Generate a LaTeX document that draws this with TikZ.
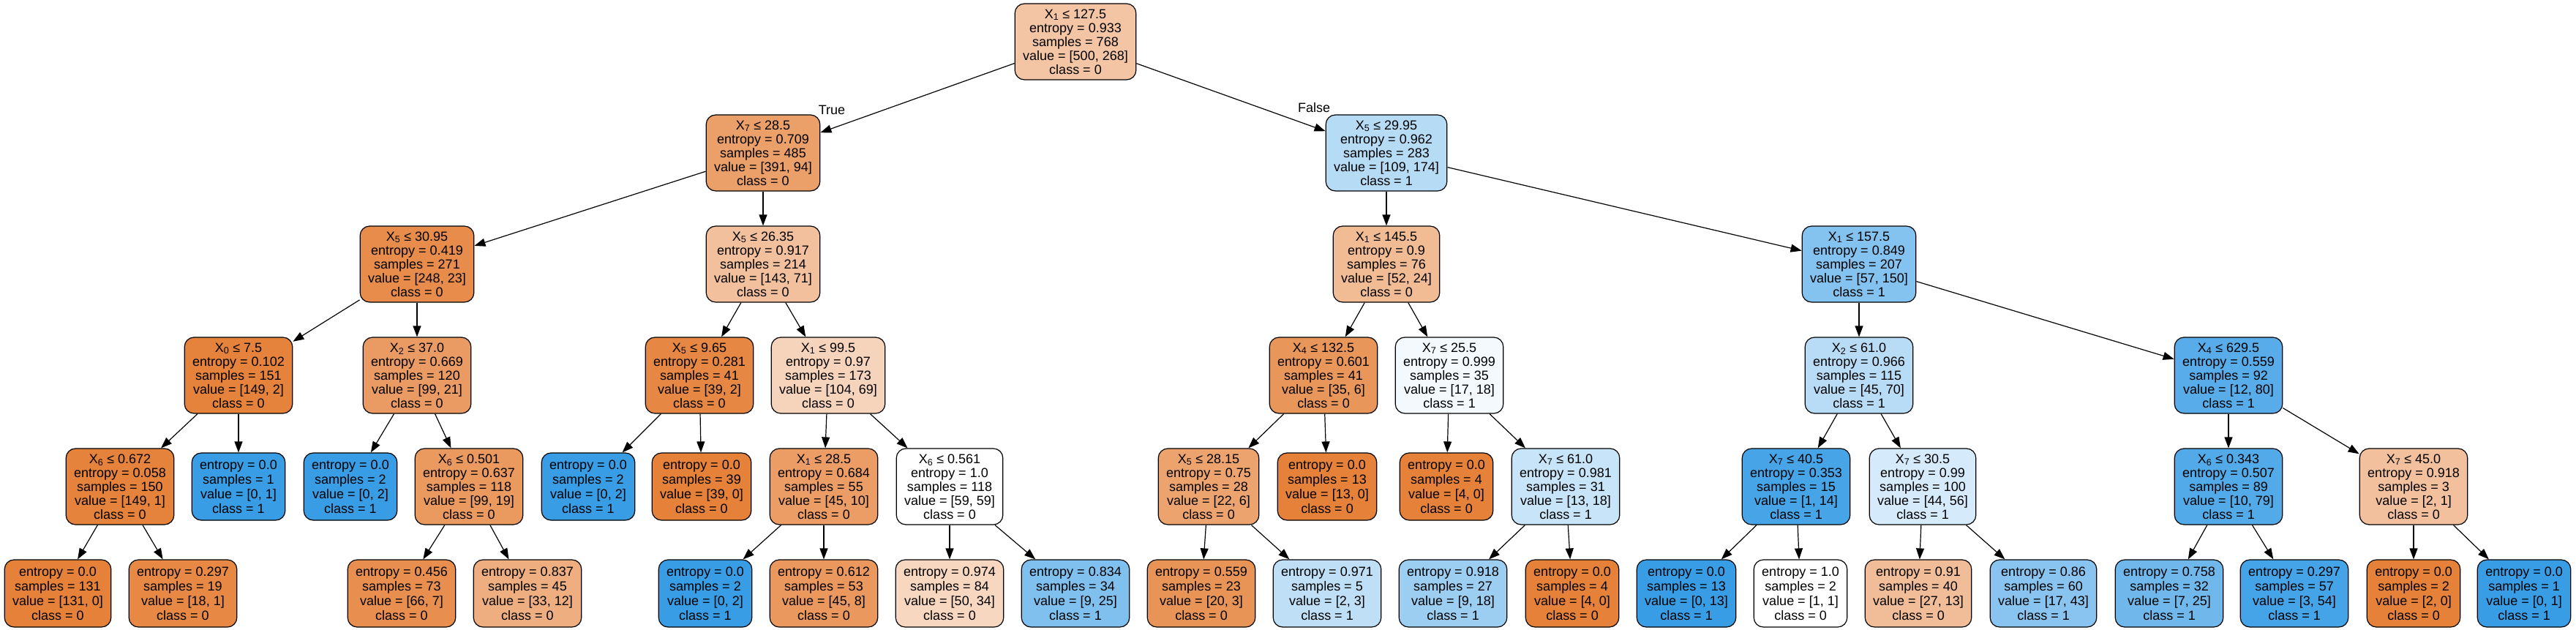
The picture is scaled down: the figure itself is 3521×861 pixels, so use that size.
\documentclass[tikz,border=0pt]{standalone}
\usepackage{fontspec}
\setmainfont{Liberation Sans}
\usetikzlibrary{arrows.meta}
\definecolor{cz}{RGB}{229,129,57}
\definecolor{co}{RGB}{57,157,229}
\begin{document}
\begin{tikzpicture}[x=1pt,y=-1pt,
  base/.style={draw=black, line width=1.2pt, rounded corners=13pt, align=center, inner xsep=11pt, inner ysep=0pt},
  tnode/.style={base, minimum height=104pt, font=\fontsize{18}{19}\selectfont},
  tleaf/.style={base, minimum height=92pt, font=\fontsize{18}{20}\selectfont},
  conn/.style={draw=black, line width=1.2pt, -{Triangle[length=15pt,width=11pt]}},
  lbl/.style={font=\fontsize{18}{20}\selectfont, inner sep=0pt}]
\useasboundingbox (0,0) rectangle (3521,861);
% level 0
\node[tnode, fill=cz!46!white] (n0) at (1470,57) {X\textsubscript{1} ≤ 127.5\\entropy = 0.933\\samples = 768\\value = [500, 268]\\class = 0};
% level 1
\node[tnode, fill=cz!76!white] (a) at (1043,209) {X\textsubscript{7} ≤ 28.5\\entropy = 0.709\\samples = 485\\value = [391, 94]\\class = 0};
\node[tnode, fill=co!37!white] (b) at (1895,209) {X\textsubscript{5} ≤ 29.95\\entropy = 0.962\\samples = 283\\value = [109, 174]\\class = 1};
% level 2
\node[tnode, fill=cz!91!white] (a1) at (570,361) {X\textsubscript{5} ≤ 30.95\\entropy = 0.419\\samples = 271\\value = [248, 23]\\class = 0};
\node[tnode, fill=cz!50!white] (a2) at (1043,361) {X\textsubscript{5} ≤ 26.35\\entropy = 0.917\\samples = 214\\value = [143, 71]\\class = 0};
\node[tnode, fill=cz!54!white] (b1) at (1895,361) {X\textsubscript{1} ≤ 145.5\\entropy = 0.9\\samples = 76\\value = [52, 24]\\class = 0};
\node[tnode, fill=co!62!white] (b2) at (2541,361) {X\textsubscript{1} ≤ 157.5\\entropy = 0.849\\samples = 207\\value = [57, 150]\\class = 1};
% level 3
\node[tnode, fill=cz!99!white] (a11) at (326,513) {X\textsubscript{0} ≤ 7.5\\entropy = 0.102\\samples = 151\\value = [149, 2]\\class = 0};
\node[tnode, fill=cz!79!white] (a12) at (570,513) {X\textsubscript{2} ≤ 37.0\\entropy = 0.669\\samples = 120\\value = [99, 21]\\class = 0};
\node[tnode, fill=cz!95!white] (a21) at (956,513) {X\textsubscript{5} ≤ 9.65\\entropy = 0.281\\samples = 41\\value = [39, 2]\\class = 0};
\node[tnode, fill=cz!34!white] (a22) at (1132,513) {X\textsubscript{1} ≤ 99.5\\entropy = 0.97\\samples = 173\\value = [104, 69]\\class = 0};
\node[tnode, fill=cz!83!white] (b11) at (1809,513) {X\textsubscript{4} ≤ 132.5\\entropy = 0.601\\samples = 41\\value = [35, 6]\\class = 0};
\node[tnode, fill=co!6!white] (b12) at (1981,513) {X\textsubscript{7} ≤ 25.5\\entropy = 0.999\\samples = 35\\value = [17, 18]\\class = 1};
\node[tnode, fill=co!36!white] (b21) at (2541,513) {X\textsubscript{2} ≤ 61.0\\entropy = 0.966\\samples = 115\\value = [45, 70]\\class = 1};
\node[tnode, fill=co!85!white] (b22) at (3046,513) {X\textsubscript{4} ≤ 629.5\\entropy = 0.559\\samples = 92\\value = [12, 80]\\class = 1};
% level 4
\node[tnode, fill=cz!99!white] (c1) at (164,665) {X\textsubscript{6} ≤ 0.672\\entropy = 0.058\\samples = 150\\value = [149, 1]\\class = 0};
\node[tleaf, fill=co] (c2) at (326,665) {entropy = 0.0\\samples = 1\\value = [0, 1]\\class = 1};
\node[tleaf, fill=co] (c3) at (479,665) {entropy = 0.0\\samples = 2\\value = [0, 2]\\class = 1};
\node[tnode, fill=cz!81!white] (c4) at (641,665) {X\textsubscript{6} ≤ 0.501\\entropy = 0.637\\samples = 118\\value = [99, 19]\\class = 0};
\node[tleaf, fill=co] (c5) at (804,665) {entropy = 0.0\\samples = 2\\value = [0, 2]\\class = 1};
\node[tleaf, fill=cz] (c6) at (959,665) {entropy = 0.0\\samples = 39\\value = [39, 0]\\class = 0};
\node[tnode, fill=cz!78!white] (c7) at (1126,665) {X\textsubscript{1} ≤ 28.5\\entropy = 0.684\\samples = 55\\value = [45, 10]\\class = 0};
\node[tnode, fill=white] (c8) at (1298,665) {X\textsubscript{6} ≤ 0.561\\entropy = 1.0\\samples = 118\\value = [59, 59]\\class = 0};
\node[tnode, fill=cz!73!white] (c9) at (1652,665) {X\textsubscript{5} ≤ 28.15\\entropy = 0.75\\samples = 28\\value = [22, 6]\\class = 0};
\node[tleaf, fill=cz] (c10) at (1814,665) {entropy = 0.0\\samples = 13\\value = [13, 0]\\class = 0};
\node[tleaf, fill=cz] (c11) at (1977,665) {entropy = 0.0\\samples = 4\\value = [4, 0]\\class = 0};
\node[tnode, fill=co!28!white] (c12) at (2140,665) {X\textsubscript{7} ≤ 61.0\\entropy = 0.981\\samples = 31\\value = [13, 18]\\class = 1};
\node[tnode, fill=co!93!white] (c13) at (2455,665) {X\textsubscript{7} ≤ 40.5\\entropy = 0.353\\samples = 15\\value = [1, 14]\\class = 1};
\node[tnode, fill=co!21!white] (c14) at (2628,665) {X\textsubscript{7} ≤ 30.5\\entropy = 0.99\\samples = 100\\value = [44, 56]\\class = 1};
\node[tnode, fill=co!87!white] (c15) at (3046,665) {X\textsubscript{6} ≤ 0.343\\entropy = 0.507\\samples = 89\\value = [10, 79]\\class = 1};
\node[tnode, fill=cz!50!white] (c16) at (3299,665) {X\textsubscript{7} ≤ 45.0\\entropy = 0.918\\samples = 3\\value = [2, 1]\\class = 0};
% level 5
\node[tleaf, fill=cz] (d1) at (79,811) {entropy = 0.0\\samples = 131\\value = [131, 0]\\class = 0};
\node[tleaf, fill=cz!94!white] (d2) at (250,811) {entropy = 0.297\\samples = 19\\value = [18, 1]\\class = 0};
\node[tleaf, fill=cz!89!white] (d3) at (549,811) {entropy = 0.456\\samples = 73\\value = [66, 7]\\class = 0};
\node[tleaf, fill=cz!64!white] (d4) at (721,811) {entropy = 0.837\\samples = 45\\value = [33, 12]\\class = 0};
\node[tleaf, fill=co] (d5) at (964,811) {entropy = 0.0\\samples = 2\\value = [0, 2]\\class = 1};
\node[tleaf, fill=cz!82!white] (d6) at (1126,811) {entropy = 0.612\\samples = 53\\value = [45, 8]\\class = 0};
\node[tleaf, fill=cz!32!white] (d7) at (1298,811) {entropy = 0.974\\samples = 84\\value = [50, 34]\\class = 0};
\node[tleaf, fill=co!64!white] (d8) at (1470,811) {entropy = 0.834\\samples = 34\\value = [9, 25]\\class = 1};
\node[tleaf, fill=cz!85!white] (d9) at (1642,811) {entropy = 0.559\\samples = 23\\value = [20, 3]\\class = 0};
\node[tleaf, fill=co!33!white] (d10) at (1814,811) {entropy = 0.971\\samples = 5\\value = [2, 3]\\class = 1};
\node[tleaf, fill=co!50!white] (d11) at (1986,811) {entropy = 0.918\\samples = 27\\value = [9, 18]\\class = 1};
\node[tleaf, fill=cz] (d12) at (2149,811) {entropy = 0.0\\samples = 4\\value = [4, 0]\\class = 0};
\node[tleaf, fill=co] (d13) at (2305,811) {entropy = 0.0\\samples = 13\\value = [0, 13]\\class = 1};
\node[tleaf, fill=white] (d14) at (2461,811) {entropy = 1.0\\samples = 2\\value = [1, 1]\\class = 0};
\node[tleaf, fill=cz!52!white] (d15) at (2622,811) {entropy = 0.91\\samples = 40\\value = [27, 13]\\class = 0};
\node[tleaf, fill=co!60!white] (d16) at (2793,811) {entropy = 0.86\\samples = 60\\value = [17, 43]\\class = 1};
\node[tleaf, fill=co!72!white] (d17) at (2965,811) {entropy = 0.758\\samples = 32\\value = [7, 25]\\class = 1};
\node[tleaf, fill=co!94!white] (d18) at (3136,811) {entropy = 0.297\\samples = 57\\value = [3, 54]\\class = 1};
\node[tleaf, fill=cz] (d19) at (3299,811) {entropy = 0.0\\samples = 2\\value = [2, 0]\\class = 0};
\node[tleaf, fill=co] (d20) at (3450,811) {entropy = 0.0\\samples = 1\\value = [0, 1]\\class = 1};
% labels
\node[lbl] (tl) at (1137,150) {True};
\node[lbl] (fl) at (1796,147) {False};
% edges
\draw[conn] (n0) -- (a);
\draw[conn] (n0) -- (b);
\draw[conn] (a) -- (a1);
\draw[conn] (a) -- (a2);
\draw[conn] (b) -- (b1);
\draw[conn] (b) -- (b2);
\draw[conn] (a1) -- (a11);
\draw[conn] (a1) -- (a12);
\draw[conn] (a2) -- (a21);
\draw[conn] (a2) -- (a22);
\draw[conn] (b1) -- (b11);
\draw[conn] (b1) -- (b12);
\draw[conn] (b2) -- (b21);
\draw[conn] (b2) -- (b22);
\draw[conn] (a11) -- (c1);
\draw[conn] (a11) -- (c2);
\draw[conn] (a12) -- (c3);
\draw[conn] (a12) -- (c4);
\draw[conn] (a21) -- (c5);
\draw[conn] (a21) -- (c6);
\draw[conn] (a22) -- (c7);
\draw[conn] (a22) -- (c8);
\draw[conn] (b11) -- (c9);
\draw[conn] (b11) -- (c10);
\draw[conn] (b12) -- (c11);
\draw[conn] (b12) -- (c12);
\draw[conn] (b21) -- (c13);
\draw[conn] (b21) -- (c14);
\draw[conn] (b22) -- (c15);
\draw[conn] (b22) -- (c16);
\draw[conn] (c1) -- (d1);
\draw[conn] (c1) -- (d2);
\draw[conn] (c4) -- (d3);
\draw[conn] (c4) -- (d4);
\draw[conn] (c7) -- (d5);
\draw[conn] (c7) -- (d6);
\draw[conn] (c8) -- (d7);
\draw[conn] (c8) -- (d8);
\draw[conn] (c9) -- (d9);
\draw[conn] (c9) -- (d10);
\draw[conn] (c12) -- (d11);
\draw[conn] (c12) -- (d12);
\draw[conn] (c13) -- (d13);
\draw[conn] (c13) -- (d14);
\draw[conn] (c14) -- (d15);
\draw[conn] (c14) -- (d16);
\draw[conn] (c15) -- (d17);
\draw[conn] (c15) -- (d18);
\draw[conn] (c16) -- (d19);
\draw[conn] (c16) -- (d20);
\end{tikzpicture}
\end{document}
